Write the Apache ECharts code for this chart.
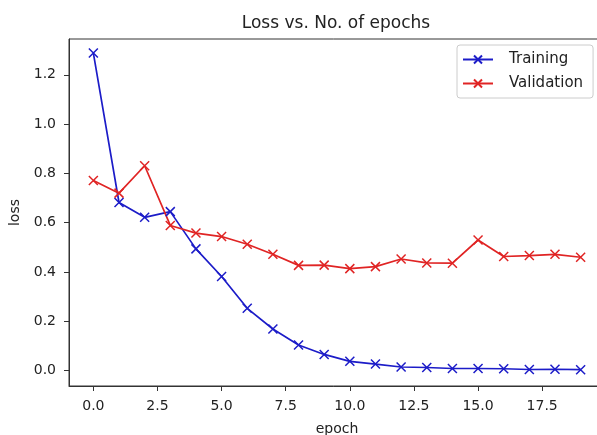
<!DOCTYPE html>
<html><head><meta charset="utf-8">
<script src="https://cdn.jsdelivr.net/npm/echarts@6/dist/echarts.min.js"></script>
<style>html,body{margin:0;padding:0;background:#fff;overflow:hidden}#c{width:597px;height:435px}</style>
</head><body><div id="c"></div>
<script>
const epochs = [0,1,2,3,4,5,6,7,8,9,10,11,12,13,14,15,16,17,18,19];
const training = [1.288,0.682,0.622,0.645,0.494,0.382,0.253,0.169,0.104,0.066,0.038,0.027,0.015,0.013,0.009,0.009,0.008,0.005,0.006,0.004];
const validation = [0.771,0.72,0.831,0.589,0.558,0.544,0.513,0.472,0.427,0.428,0.414,0.422,0.453,0.437,0.436,0.53,0.463,0.467,0.472,0.46];
const xTicks = [0,2.5,5,7.5,10,12.5,15,17.5];
const yTicks = [0,0.2,0.4,0.6,0.8,1.0,1.2];
const title = 'Loss vs. No. of epochs';
const xName = 'epoch', yName = 'loss';

const FONT = 'DejaVu Sans';
const xMark = 'path://M0,0L10,10M10,0L0,10';
const chart = echarts.init(document.getElementById('c'), null, {renderer:'canvas'});
function mk(name, vals, col){
  return {name:name, type:'line', data: epochs.map((e,i)=>[e, vals[i]]),
    symbol:xMark, symbolSize:9, showAllSymbol:true,
    lineStyle:{color:col,width:1.7}, itemStyle:{color:'rgba(0,0,0,0)',borderColor:col,borderWidth:1.5},
    emphasis:{disabled:true}, animation:false};
}
chart.setOption({
  animation:false,
  backgroundColor:'#fff',
  title:{text:title,left:331,textAlign:'center',top:10,textStyle:{fontFamily:FONT,fontSize:17,fontWeight:'normal',color:'#222'}},
  grid:{left:69,top:39,right:-8,bottom:49,outerBoundsMode:'none',containLabel:false,show:true,borderColor:'#333',borderWidth:1,backgroundColor:'transparent'},
  legend:{orient:'vertical',left:457,top:45,itemWidth:30,itemHeight:10,itemGap:9,padding:[7,10,7,5],
    borderColor:'#ccc',borderWidth:1,borderRadius:3,backgroundColor:'rgba(255,255,255,0.85)',
    textStyle:{fontFamily:FONT,fontSize:15,color:'#222',padding:[0,0,0,11]},
    data:['Training','Validation']},
  xAxis:{type:'value',min:-0.95,max:19.95,
    name:xName,nameLocation:'middle',nameGap:36,nameTextStyle:{fontFamily:FONT,fontSize:14,color:'#222'},
    axisLine:{show:true,onZero:false,lineStyle:{color:'#333',width:1}},
    axisTick:{show:true,length:5,customValues:xTicks,lineStyle:{color:'#333'}},
    axisLabel:{customValues:xTicks,fontFamily:FONT,fontSize:14,color:'#222',margin:13,formatter:v=>v.toFixed(1)},
    splitLine:{show:false}},
  yAxis:{type:'value',min:-0.062,max:1.345,
    name:yName,nameLocation:'middle',nameGap:46,nameRotate:90,nameTextStyle:{fontFamily:FONT,fontSize:14,color:'#222'},
    axisLine:{show:true,onZero:false,lineStyle:{color:'#333',width:1}},
    axisTick:{show:true,length:5,customValues:yTicks,lineStyle:{color:'#333'}},
    axisLabel:{customValues:yTicks,fontFamily:FONT,fontSize:14,color:'#222',margin:13,formatter:v=>v.toFixed(1)},
    splitLine:{show:false}},
  series:[mk('Training',training,'#1c1cc8'), mk('Validation',validation,'#e02424')]
});
</script></body></html>
